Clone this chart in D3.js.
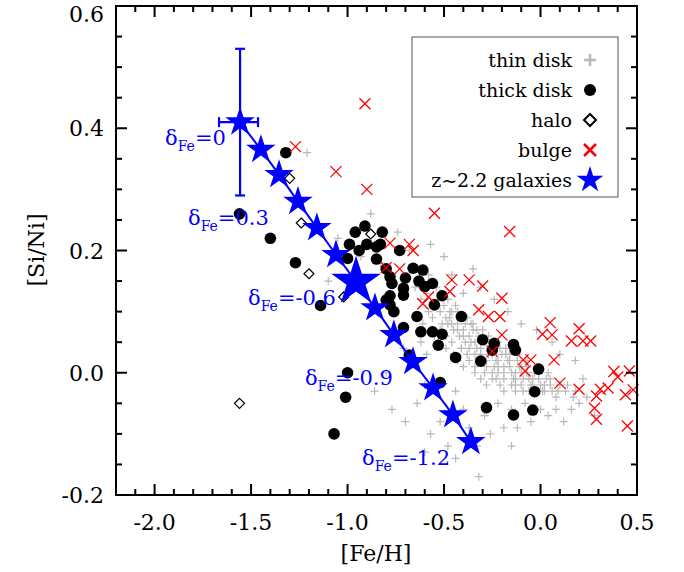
<!DOCTYPE html>
<html><head><meta charset="utf-8">
<script src="https://cdn.jsdelivr.net/npm/d3@7"></script>
<style>body{margin:0;background:#fff}svg text{font-family:'DejaVu Serif',serif}</style>
</head><body><svg id="c" width="684" height="572"></svg>
<script>
const xTicks=[-2.0,-1.5,-1.0,-0.5,0.0,0.5];
const yTicks=[-0.2,0.0,0.2,0.4,0.6];
const thin=[[-0.62,0.12],[-0.61,0.08],[-0.63,0.15],[-0.62,0.05],[-0.58,0.10],[-0.59,0.13],[-0.57,0.07],[-0.58,0.16],[-0.59,0.03],
[-0.55,0.11],[-0.56,0.09],[-0.54,0.14],[-0.55,0.06],[-0.53,0.12],[-0.52,0.10],[-0.51,0.08],[-0.52,0.13],[-0.53,0.05],[-0.50,0.11],[-0.52,0.07],
[-0.49,0.09],[-0.48,0.12],[-0.49,0.06],[-0.47,0.10],[-0.49,0.04],[-0.48,0.08],[-0.46,0.10],[-0.45,0.07],[-0.46,0.05],[-0.44,0.11],[-0.46,0.08],[-0.45,0.03],[-0.47,0.09],
[-0.43,0.08],[-0.42,0.06],[-0.43,0.10],[-0.41,0.04],[-0.43,0.07],[-0.42,0.09],[-0.43,0.02],[-0.40,0.07],[-0.39,0.05],[-0.40,0.09],[-0.38,0.03],[-0.40,0.06],[-0.39,0.08],[-0.41,0.04],[-0.40,0.01],
[-0.37,0.06],[-0.36,0.08],[-0.37,0.04],[-0.35,0.07],[-0.37,0.02],[-0.36,0.05],[-0.38,0.09],[-0.34,0.05],[-0.33,0.07],[-0.34,0.03],[-0.32,0.06],[-0.34,0.01],[-0.33,0.04],[-0.35,0.08],[-0.34,0.00],
[-0.31,0.04],[-0.30,0.06],[-0.31,0.02],[-0.29,0.05],[-0.31,0.03],[-0.30,0.07],[-0.31,-0.01],[-0.28,0.05],[-0.27,0.03],[-0.28,0.01],[-0.26,0.04],[-0.28,0.02],[-0.27,0.06],[-0.28,-0.02],[-0.29,0.00],
[-0.25,0.03],[-0.24,0.01],[-0.25,0.04],[-0.23,0.02],[-0.25,0.00],[-0.24,0.05],[-0.25,-0.01],[-0.22,0.02],[-0.21,0.04],[-0.22,0.00],[-0.20,0.03],[-0.22,0.01],[-0.21,-0.02],[-0.22,0.05],[-0.23,-0.01],
[-0.19,0.01],[-0.18,0.03],[-0.19,0.00],[-0.17,0.02],[-0.19,-0.01],[-0.18,0.04],[-0.19,-0.03],[-0.16,0.02],[-0.15,0.00],[-0.16,0.01],[-0.14,-0.01],[-0.16,0.03],[-0.15,-0.02],[-0.16,0.04],
[-0.13,0.00],[-0.12,0.02],[-0.13,-0.01],[-0.11,0.01],[-0.13,-0.02],[-0.12,0.03],[-0.13,-0.03],[-0.10,0.01],[-0.09,-0.01],[-0.10,0.00],[-0.08,0.02],[-0.10,-0.02],[-0.09,-0.03],
[-0.07,0.00],[-0.06,-0.01],[-0.07,0.01],[-0.05,-0.02],[-0.07,0.02],[-0.06,-0.03],[-0.04,-0.01],[-0.03,0.00],[-0.04,-0.02],[-0.02,0.01],[-0.04,-0.03],
[-0.01,-0.01],[0.00,-0.02],[-0.01,0.00],[0.01,-0.03],[-0.01,0.01],[0.02,-0.02],[0.03,-0.01],[0.02,-0.03],[0.04,0.00],[0.05,-0.02],[0.06,-0.03],[0.05,-0.01],
[0.09,-0.03],[0.10,-0.02],[0.08,-0.04],[0.13,-0.03],[0.14,-0.02],[0.17,-0.04],[0.18,-0.03],
[-1.05,0.22],[-0.93,0.19],[-0.88,0.26],[-0.83,0.18],[-0.98,0.14],[-0.74,0.23],[-0.68,0.20],[-0.65,0.14],[-0.71,0.04],[-0.80,0.00],[-0.86,-0.03],[-0.77,-0.06],[-0.70,-0.08],[-0.64,-0.05],[-0.60,-0.02],
[-0.57,-0.10],[-0.52,-0.08],[-0.48,-0.12],[-0.44,-0.03],[-0.40,-0.06],[-0.37,-0.09],[-0.33,-0.12],[-0.29,-0.07],[-0.26,-0.10],[-0.22,-0.05],[-0.19,-0.09],[-0.15,-0.06],[-0.12,-0.09],[-0.08,-0.05],[-0.05,-0.08],
[0.00,-0.06],[0.04,-0.07],[0.08,-0.06],[0.12,-0.08],[0.16,-0.06],[0.20,-0.05],[0.24,-0.04],[0.18,0.02],[0.22,-0.01],[0.10,0.03],[0.06,0.05],[-0.02,0.07],[-0.10,0.08],[-0.17,0.10],[-0.24,0.12],
[-0.31,0.14],[-0.35,0.17],[-0.40,0.13],[-0.46,0.16],[-0.50,0.19],[-0.57,0.21],[-1.21,0.36],[-1.10,0.15],[-0.32,-0.17],[-0.44,-0.14],[-0.60,-0.13],[-0.15,-0.12],[0.28,-0.07]];
const thick=[[-1.32,0.36],[-1.56,0.26],[-1.40,0.22],[-1.27,0.18],[-1.14,0.11],[-1.00,0.00],[-1.01,-0.04],[-1.07,-0.10],[-0.91,0.24],[-0.96,0.23],[-0.82,0.23],[-0.99,0.21],[-0.90,0.21],[-0.85,0.206],[-0.83,0.21],
[-0.94,0.20],[-1.00,0.187],[-0.85,0.186],[-0.73,0.20],[-0.80,0.17],[-0.66,0.171],[-0.61,0.168],[-0.78,0.157],[-0.70,0.155],[-0.63,0.15],[-0.56,0.146],[-0.77,0.146],[-0.71,0.138],[-0.60,0.141],
[-0.71,0.127],[-0.78,0.126],[-0.51,0.126],[-0.55,0.111],[-0.80,0.119],[-0.76,0.10],[-0.78,0.111],[-0.64,0.092],[-0.41,0.092],[-0.71,0.074],[-0.62,0.067],[-0.56,0.067],[-0.51,0.063],[-0.53,0.045],
[-0.68,0.029],[-0.30,0.054],[-0.24,0.048],[-0.25,0.037],[-0.14,0.046],[-0.13,0.037],[-0.44,0.025],[-0.31,0.019],[-0.01,0.006],[-0.03,-0.031],[-0.52,-0.016],[-0.28,-0.057],[-0.04,-0.061],[-0.14,-0.069]];
const halo=[[-1.30,0.318],[-1.24,0.245],[-1.20,0.162],[-0.88,0.227],[-1.02,0.124],[-1.56,-0.05]];
const bulge=[[-0.91,0.44],[-1.27,0.37],[-1.06,0.329],[-0.90,0.30],[-0.55,0.261],[-0.16,0.231],[-0.78,0.212],[-0.68,0.21],[-0.66,0.20],[-0.80,0.172],[-0.73,0.17],
[-0.46,0.152],[-0.37,0.152],[-0.30,0.142],[-0.47,0.133],[-0.58,0.124],[-0.61,0.113],[-0.20,0.122],[-0.32,0.103],[-0.27,0.092],[-0.21,0.092],[-0.20,0.062],[0.05,0.082],[0.01,0.063],[0.06,0.062],
[0.20,0.072],[0.16,0.052],[0.22,0.052],[0.26,0.052],[-0.25,0.035],[-0.09,0.021],[-0.05,0.021],[0.07,0.021],[-0.08,0.003],[0.10,-0.017],[0.20,-0.027],[0.38,0.002],[0.46,0.003],[0.40,-0.007],
[0.31,-0.027],[0.35,-0.025],[0.44,-0.036],[0.48,-0.028],[0.29,-0.038],[0.28,-0.058],[0.29,-0.076],[0.45,-0.087]];
const galFe=[-1.557,-1.449,-1.355,-1.257,-1.159,-1.060,-0.956,-0.858,-0.760,-0.661,-0.557,-0.454,-0.361];
const galSiNi=[0.410,0.365,0.324,0.280,0.237,0.193,0.149,0.106,0.062,0.018,-0.025,-0.069,-0.113];
const bigIndex=6;
const errX=[-1.666,-1.464], errY=[0.29,0.53];
const deltaLabels=[{t:"0",x:-1.946,y:0.373},{t:"0.3",x:-1.827,y:0.242},{t:"-0.6",x:-1.516,y:0.111},{t:"-0.9",x:-1.221,y:-0.020},{t:"-1.2",x:-0.925,y:-0.151}];
const legend=[["thin disk","thin"],["thick disk","thick"],["halo","halo"],["bulge","bulge"],["z~2.2 galaxies","gal"]];

const svg=d3.select("#c");
const L=116,R=637,T=6,B=495;
const x=d3.scaleLinear().domain([-2.2,0.5]).range([L,R]);
const y=d3.scaleLinear().domain([-0.2,0.6]).range([B,T]);
const cross=(g,s,col,w)=>g.append("path").attr("d",`M${-s},0H${s}M0,${-s}V${s}`).attr("stroke",col).attr("stroke-width",w).attr("fill","none");
const xmark=(g,s,col)=>g.append("path").attr("d",`M${-s},${-s}L${s},${s}M${-s},${s}L${s},${-s}`).attr("stroke",col).attr("stroke-width",1.3).attr("fill","none");
const diamond=(g,s)=>g.append("path").attr("d",`M0,${-s}L${s},0L0,${s}L${-s},0Z`).attr("stroke","#000").attr("stroke-width",1.2).attr("fill","#fff");
const plot=svg.append("g");
thin.forEach(d=>cross(plot.append("g").attr("transform",`translate(${x(d[0])},${y(d[1])})`),4,"#b8b8b8",1.2));
thick.forEach(d=>plot.append("circle").attr("cx",x(d[0])).attr("cy",y(d[1])).attr("r",5.8).attr("fill","#000"));
halo.forEach(d=>diamond(plot.append("g").attr("transform",`translate(${x(d[0])},${y(d[1])})`),5));
bulge.forEach(d=>xmark(plot.append("g").attr("transform",`translate(${x(d[0])},${y(d[1])})`),5.5,"#ff0000"));
const blue="#0000ff";
plot.append("path").attr("d",d3.line().x((d,i)=>x(galFe[i])).y((d,i)=>y(galSiNi[i]))(galFe)).attr("stroke",blue).attr("stroke-width",2).attr("fill","none");
const eb=plot.append("g").attr("stroke",blue).attr("stroke-width",2.2);
const ex=x(galFe[0]),ey=y(galSiNi[0]);
eb.append("line").attr("x1",ex).attr("x2",ex).attr("y1",y(errY[0])).attr("y2",y(errY[1]));
eb.append("line").attr("x1",ex-5).attr("x2",ex+5).attr("y1",y(errY[0])).attr("y2",y(errY[0]));
eb.append("line").attr("x1",ex-5).attr("x2",ex+5).attr("y1",y(errY[1])).attr("y2",y(errY[1]));
eb.append("line").attr("x1",x(errX[0])).attr("x2",x(errX[1])).attr("y1",ey).attr("y2",ey);
eb.append("line").attr("x1",x(errX[0])).attr("x2",x(errX[0])).attr("y1",ey-5).attr("y2",ey+5);
eb.append("line").attr("x1",x(errX[1])).attr("x2",x(errX[1])).attr("y1",ey-5).attr("y2",ey+5);
galFe.forEach((v,i)=>plot.append("path").attr("transform",`translate(${x(v)},${y(galSiNi[i])})`)
  .attr("d",d3.symbol(d3.symbolStar,i===bigIndex?760:270)()).attr("fill",blue));
deltaLabels.forEach(d=>{const t=plot.append("text").attr("x",x(d.x)).attr("y",y(d.y)).attr("fill",blue).attr("font-size",21);
  t.append("tspan").text("δ");t.append("tspan").attr("font-size",14).attr("dy",6).text("Fe");t.append("tspan").attr("dy",-6).text("="+d.t);});
const ax=svg.append("g").attr("stroke","#000").attr("stroke-width",2);
ax.append("rect").attr("x",L).attr("y",T).attr("width",R-L).attr("height",B-T).attr("fill","none");
const xs=d3.range(-2.2,0.501,0.1).map(v=>+v.toFixed(2)), ys=d3.range(-0.2,0.601,0.05).map(v=>+v.toFixed(2));
xs.forEach(v=>{const maj=xTicks.some(t=>Math.abs(t-v)<1e-6),l=maj?11:6;
  ax.append("line").attr("x1",x(v)).attr("x2",x(v)).attr("y1",B).attr("y2",B-l);
  ax.append("line").attr("x1",x(v)).attr("x2",x(v)).attr("y1",T).attr("y2",T+l);});
ys.forEach(v=>{const maj=yTicks.some(t=>Math.abs(t-v)<1e-6),l=maj?11:6;
  ax.append("line").attr("y1",y(v)).attr("y2",y(v)).attr("x1",L).attr("x2",L+l);
  ax.append("line").attr("y1",y(v)).attr("y2",y(v)).attr("x1",R).attr("x2",R-l);});
xTicks.forEach(v=>svg.append("text").attr("x",x(v)).attr("y",530).attr("text-anchor","middle").attr("font-size",22).text(v.toFixed(1)));
yTicks.forEach(v=>svg.append("text").attr("x",104).attr("y",Math.max(y(v)+8,22)).attr("text-anchor","end").attr("font-size",22).text(v.toFixed(1)));
svg.append("text").attr("x",376).attr("y",561).attr("text-anchor","middle").attr("font-size",22).text("[Fe/H]");
svg.append("text").attr("transform","translate(44,250) rotate(-90)").attr("text-anchor","middle").attr("font-size",22).text("[Si/Ni]");
const lg=svg.append("g");
lg.append("rect").attr("x",412).attr("y",37).attr("width",206).attr("height",160).attr("fill","#fff").attr("stroke","#555").attr("stroke-width",1);
legend.forEach((d,i)=>{const cy=60+i*30;
  lg.append("text").attr("x",572).attr("y",cy+7).attr("text-anchor","end").attr("font-size",19).text(d[0]);
  const g=lg.append("g").attr("transform",`translate(590,${cy})`);
  if(d[1]==="thin")cross(g,6,"#b8b8b8",2.5);
  else if(d[1]==="thick")g.append("circle").attr("r",6).attr("fill","#000");
  else if(d[1]==="halo")g.append("path").attr("d","M0,-6L6,0L0,6L-6,0Z").attr("stroke","#000").attr("stroke-width",2).attr("fill","#fff");
  else if(d[1]==="bulge")g.append("path").attr("d","M-6,-6L6,6M-6,6L6,-6").attr("stroke","#f00").attr("stroke-width",2.5);
  else g.append("path").attr("d",d3.symbol(d3.symbolStar,220)()).attr("fill",blue);});
</script></body></html>
